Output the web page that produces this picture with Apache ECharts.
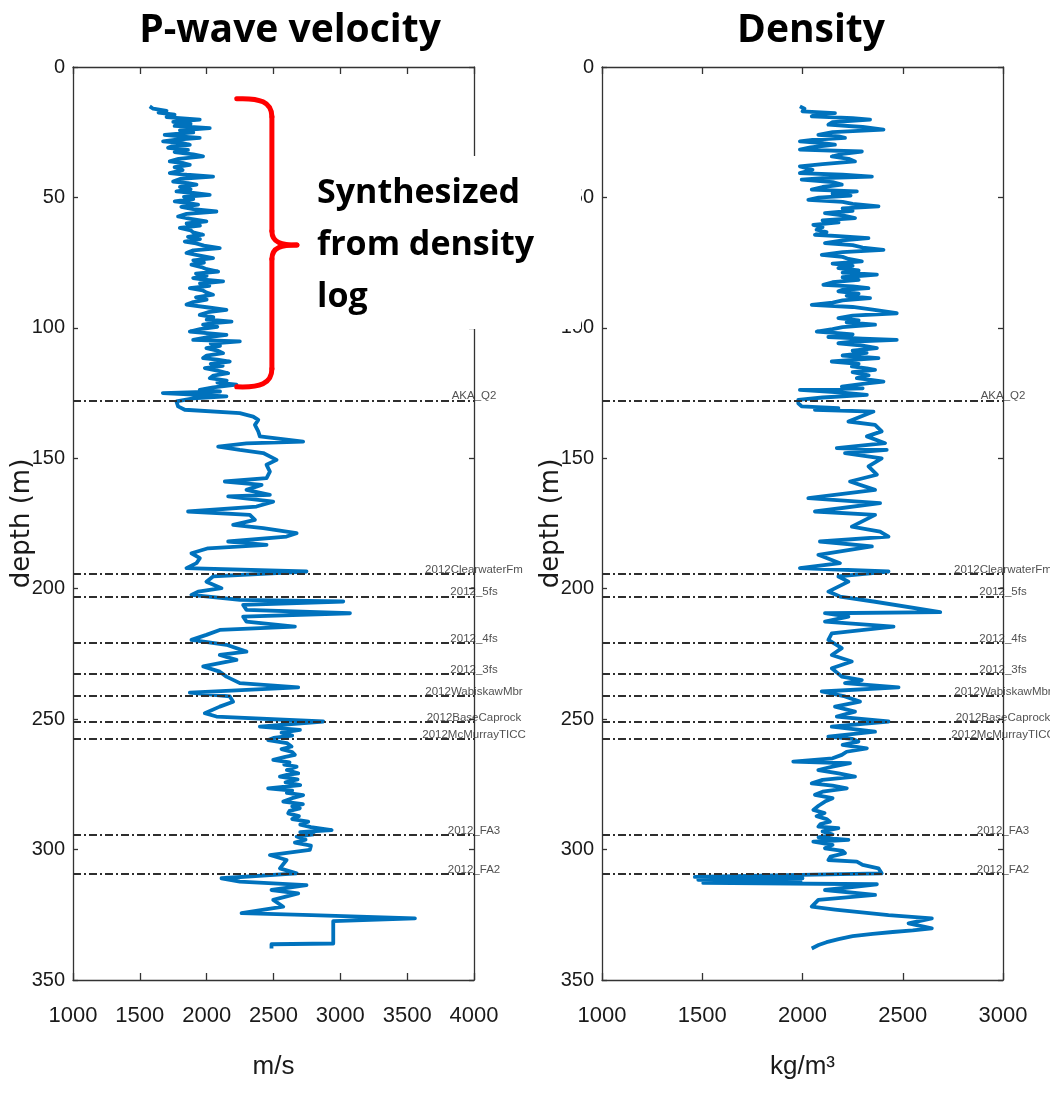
<!DOCTYPE html>
<html>
<head>
<meta charset="utf-8">
<script src="https://cdn.jsdelivr.net/npm/echarts@6/dist/echarts.min.js"></script>
<style>
  html, body { margin: 0; padding: 0; background: #fff; }
  #chart { width: 1050px; height: 1096px; }
</style>
</head>
<body>
<div id="chart"></div>
<script>
// ---- Well log: P-wave velocity (m/s) versus depth (m) ----
const depthVp = [
  15.1, 16.0, 16.8, 17.5, 18.3, 19.2, 20.2, 21.0, 21.8, 22.6, 23.4, 24.3, 25.1, 26.0, 26.6, 27.2,
  27.9, 28.5, 29.2, 29.8, 30.4, 31.0, 31.8, 32.6, 33.5, 34.3, 35.2, 36.2, 36.9, 37.5, 38.4, 39.5,
  40.7, 41.3, 42.0, 42.9, 43.9, 44.5, 45.1, 46.0, 46.9, 47.7, 48.3, 49.0, 49.8, 50.6, 51.5, 52.1,
  52.8, 53.6, 54.5, 55.4, 56.3, 57.3, 58.2, 59.2, 60.0, 60.8, 61.7, 62.6, 63.4, 64.3, 65.1, 66.0,
  66.9, 67.6, 68.5, 69.4, 70.3, 71.3, 72.3, 73.3, 74.1, 75.0, 75.8, 76.7, 77.5, 78.4, 79.2, 80.1,
  80.9, 81.5, 82.2, 83.0, 83.9, 84.8, 85.6, 86.5, 87.3, 88.3, 89.2, 90.1, 91.1, 92.1, 93.1, 94.0,
  95.0, 95.9, 96.8, 97.6, 98.2, 98.8, 99.6, 100.5, 101.4, 102.0, 102.7, 103.6, 104.6, 105.2, 106.0,
  106.9, 107.8, 108.7, 109.7, 110.6, 111.6, 112.2, 112.9, 113.8, 114.6, 115.4, 116.4, 117.4, 118.3,
  119.3, 120.2, 121.0, 121.8, 122.8, 123.8, 124.4, 125.0, 125.6, 126.3, 127.0, 128.2, 130.1, 131.4,
  132.7, 134.0, 135.3, 137.2, 139.7, 141.6, 143.6, 144.3, 145.5, 146.8, 148.0, 150.6, 152.5, 155.1,
  157.6, 158.9, 160.2, 162.1, 164.0, 164.6, 166.6, 168.5, 170.4, 171.7, 173.6, 175.5, 176.8, 178.7,
  180.0, 181.9, 183.2, 184.5, 186.4, 188.3, 190.2, 192.1, 193.4, 195.3, 197.3, 199.8, 201.1, 202.4,
  204.3, 204.9, 206.2, 208.1, 209.4, 210.7, 212.6, 214.5, 215.8, 217.7, 219.6, 221.5, 224.1, 225.4,
  227.3, 229.8, 231.8, 233.7, 236.2, 237.8, 239.8, 241.3, 243.3, 245.2, 247.7, 249.0, 250.9, 252.9,
  254.1, 255.2, 256.3, 257.2, 258.0, 259.2, 260.5, 261.5, 262.6, 263.7, 264.6, 265.6, 266.6, 267.4,
  268.2, 269.5, 270.8, 271.4, 272.0, 273.1, 274.2, 275.3, 276.5, 277.4, 278.3, 279.1, 280.3, 281.6,
  282.6, 283.4, 284.2, 285.2, 286.1, 287.2, 288.3, 289.3, 290.4, 291.4, 292.5, 293.3, 294.2, 295.0,
  296.2, 297.3, 298.5, 300.1, 302.1, 304.0, 307.2, 309.1, 311.0, 312.3, 313.6, 315.5, 316.8, 319.3,
  321.9, 324.4, 325.1, 326.4, 327.4, 336.0, 336.3, 337.9
];
const vp = [
  1574, 1600, 1700, 1640, 1760, 1700, 1948, 1750, 1880, 1760, 2023, 1800, 1900, 1686, 1800, 1948,
  1760, 1674, 1820, 1874, 1740, 1711, 1860, 1760, 1900, 1973, 1790, 1724, 1830, 1874, 1760, 1820,
  1724, 1850, 2048, 1800, 1749, 1860, 1924, 1800, 1880, 1774, 1900, 2023, 1830, 1900, 1761, 1850,
  1936, 1810, 1900, 2073, 1850, 1786, 1880, 1998, 1850, 1950, 1799, 1880, 1900, 1973, 1860, 1950,
  1836, 1920, 1980, 2098, 1900, 1849, 1950, 2048, 1900, 1980, 1886, 1960, 2000, 2086, 1920, 2000,
  1899, 1980, 2123, 1950, 2020, 1874, 1970, 2000, 2048, 1920, 2000, 1900, 1849, 2000, 2148, 2010,
  1948, 2050, 2000, 2186, 2050, 1973, 2080, 1950, 1874, 2000, 2148, 2000, 1899, 2248, 2030,
  2100, 1998, 2080, 2123, 2000, 1973, 2080, 2173, 2030, 2120, 1986, 2080, 2161, 2050,
  2023, 2150, 2080, 2223, 2050, 1948, 2100, 1672, 1900, 2148, 1900, 1774, 1786, 1836,
  2248, 2348, 2386, 2361, 2386, 2398, 2722, 2298, 2086, 2248, 2423, 2523, 2448, 2473,
  2448, 2136, 2411, 2298, 2473, 2161, 2498, 2373, 1861, 2323, 2361, 2198, 2423, 2673,
  2598, 2161, 2448, 2011, 1886, 1949, 1924, 1849, 2747, 2048, 1998, 2111, 1936, 1886,
  2248, 3022, 2273, 2298, 3072, 2273, 2298, 2660, 2098, 1998, 1886, 2148, 2298, 2098,
  2223, 1974, 2098, 2148, 2248, 2685, 1874, 2173, 2198, 2098, 1986, 2073, 2872, 2398,
  2698, 2560, 2640, 2500, 2460, 2600, 2635, 2560, 2640, 2660, 2580, 2498, 2620, 2580,
  2673, 2600, 2685, 2600, 2548, 2680, 2590, 2700, 2460, 2640, 2600, 2722, 2640, 2573,
  2720, 2640, 2697, 2620, 2610, 2690, 2640, 2760, 2700, 2780, 2935, 2700, 2800, 2673,
  2740, 2660, 2780, 2772, 2473, 2598, 2548, 2673, 2111, 2248, 2747, 2485, 2685, 2498,
  2573, 2261, 2785, 3558, 2947, 2947, 2485, 2485
];

// ---- Well log: density (kg/m3) versus depth (m) ----
const depthRho = [
  15.1, 16.0, 17.0, 17.7, 18.3, 18.9, 19.6, 20.2, 21.1, 22.1, 23.0, 24.0, 25.0, 26.0, 26.6, 27.2,
  27.9, 28.5, 29.2, 29.8, 30.8, 31.7, 32.4, 33.3, 34.3, 35.2, 36.2, 37.2, 38.1, 39.4, 40.7, 41.3,
  42.0, 42.6, 43.2, 44.1, 45.1, 46.0, 47.0, 47.7, 48.5, 49.3, 50.1, 50.9, 51.7, 52.5, 53.4, 54.2,
  55.1, 56.0, 56.9, 57.9, 58.8, 59.6, 60.5, 61.4, 62.4, 63.3, 64.3, 64.9, 65.6, 66.5, 67.5, 68.3,
  69.2, 70.1, 71.0, 72.0, 72.8, 73.6, 74.5, 75.4, 76.2, 77.1, 78.0, 78.8, 79.6, 80.6, 81.6, 82.5,
  83.5, 84.1, 84.8, 85.4, 86.0, 86.9, 87.7, 88.6, 89.5, 90.3, 91.2, 92.0, 93.0, 94.4, 95.3, 96.3,
  97.1, 97.9, 98.8, 99.7, 100.5, 101.4, 102.5, 103.5, 104.1, 104.6, 105.3, 105.9, 106.8, 107.8,
  108.7, 109.6, 110.6, 111.6, 112.3, 112.9, 113.8, 114.8, 115.5, 116.1, 117.0, 118.2, 119.3, 120.0,
  120.6, 121.5, 122.5, 123.2, 123.8, 124.8, 125.7, 126.7, 127.6, 128.9, 130.1, 130.8, 131.4, 132.1,
  135.9, 137.2, 139.7, 141.6, 144.2, 146.1, 146.8, 148.0, 150.0, 153.1, 156.3, 158.9, 162.1, 165.3,
  167.2, 170.4, 171.7, 176.2, 178.1, 180.0, 181.9, 183.8, 187.0, 190.2, 192.1, 193.4, 195.3, 197.3,
  201.1, 203.0, 204.9, 209.0, 209.4, 210.7, 212.6, 214.5, 217.1, 219.6, 222.8, 225.4, 227.9, 230.5,
  233.7, 235.0, 236.2, 237.8, 239.4, 241.3, 243.3, 245.2, 247.1, 249.0, 250.9, 252.9, 254.8, 256.7,
  257.6, 258.6, 259.9, 261.2, 262.5, 263.7, 265.0, 266.3, 266.9, 268.2, 269.5, 270.8, 272.0, 273.3,
  274.6, 275.5, 276.5, 277.8, 279.0, 280.3, 281.6, 283.2, 284.8, 286.0, 287.2, 288.3, 289.3, 290.2,
  291.2, 291.8, 293.0, 294.2, 295.3, 296.3, 297.0, 298.2, 299.5, 300.5, 301.4, 302.7, 304.0, 304.6,
  305.9, 307.2, 309.1, 310.5, 311.0, 311.6, 312.2, 312.8, 313.3, 315.5, 317.4, 319.3, 321.9, 323.0,
  325.1, 326.4, 328.3, 330.2, 331.0, 331.6, 332.3, 333.2, 334.3, 335.5, 336.6, 337.9
];
const rho = [
  1987, 2010, 2000, 2162, 2060, 2046, 2250, 2337, 2150, 2129, 2300, 2404, 2150, 2079, 2180, 2212,
  2050, 1987, 2100, 2162, 2040, 1987, 2296, 2200, 2146, 2230, 2262, 2100, 1987, 2050, 1987, 2200,
  2346, 2100, 1996, 2150, 2196, 2100, 2046, 2271, 2150, 2240, 2080, 2029, 2200, 2250, 2379, 2200,
  2250, 2112, 2200, 2262, 2100, 2180, 2054, 2100, 2070, 2120, 2062, 2200, 2329, 2200, 2112, 2250,
  2300, 2404, 2200, 2096, 2200, 2230, 2296, 2150, 2250, 2179, 2280, 2200, 2371, 2200, 2280, 2150,
  2104, 2250, 2329, 2200, 2179, 2280, 2220, 2337, 2200, 2150, 2046, 2250, 2350, 2470, 2250, 2179,
  2280, 2220, 2362, 2200, 2150, 2071, 2250, 2129, 2300, 2470, 2250, 2179, 2300, 2371,
  2250, 2320, 2200, 2379, 2250, 2146, 2280, 2246, 2320, 2362, 2250, 2330, 2271, 2350,
  2404, 2300, 2196, 2300, 1987, 2200, 2321, 2100, 1979, 1979, 1996, 2179, 2062, 2354,
  2229, 2362, 2395, 2321, 2412, 2171, 2420, 2212, 2395, 2329, 2371, 2237, 2362, 2029,
  2387, 2062, 2362, 2246, 2387, 2429, 2087, 2346, 2079, 2187, 1987, 2429, 2179, 2229,
  2129, 2187, 2354, 2687, 2112, 2229, 2112, 2454, 2146, 2129, 2196, 2146, 2246, 2146,
  2196, 2296, 2212, 2479, 2096, 2212, 2287, 2162, 2262, 2171, 2429, 2146, 2362, 2129,
  2250, 2279, 2200, 2321, 2220, 2196, 2150, 1954, 2237, 2150, 2079, 2180, 2262, 2100,
  2046, 2150, 2221, 2100, 2062, 2150, 2112, 2080, 2054, 2110, 2070, 2120, 2137, 2090,
  2079, 2179, 2100, 2150, 2080, 2229, 2054, 2150, 2112, 2200, 2212, 2140, 2129, 2271,
  2300, 2379, 2395, 1463, 2000, 1480, 1990, 1505, 2371, 2112, 2362, 2079, 2046, 2162,
  2429, 2645, 2529, 2645, 2550, 2450, 2350, 2250, 2180, 2120, 2080, 2046
];

// ---- Formation tops ----
const topNames = [
  'AKA_Q2', '2012ClearwaterFm', '2012_5fs', '2012_4fs', '2012_3fs',
  '2012WabiskawMbr', '2012BaseCaprock', '2012McMurrayTICC', '2012_FA3', '2012_FA2'
];
const topDepths = [127.8, 194.3, 203.0, 220.8, 232.7, 241.1, 251.1, 257.6, 294.5, 309.4];

// ---- Axis ranges: [min, max, interval] ----
const depthRange = [0, 350, 50];
const vpRange = [1000, 4000, 500];
const rhoRange = [1000, 3000, 500];

// Depth interval of the synthesized velocity section, bracketed on the left track
const braceDepths = [12.2, 68.2, 122.6];
const braceVp = [2225, 2488, 2675];

const AXIS_FONT = "'Liberation Sans', Arial, sans-serif";
const AXIS_COLOR = '#333';
const TEXT_COLOR = '#1a1a1a';
const LOG_BLUE = '#0072BD';

const chart = echarts.init(document.getElementById('chart'), null, { renderer: 'canvas' });

function pairs(depths, values) {
  return depths.map((d, i) => [values[i], d]);
}

const plainNumber = v => String(v);

function xAxes(gridIndex, range, unitName) {
  const common = {
    gridIndex, type: 'value', min: range[0], max: range[1], interval: range[2],
    splitLine: { show: false },
    axisLine: { show: true, onZero: false, lineStyle: { color: AXIS_COLOR, width: 1.3 } },
    axisTick: { show: true, inside: true, length: 7, lineStyle: { color: AXIS_COLOR, width: 1.3 } }
  };
  return [
    Object.assign({}, common, {
      position: 'bottom',
      axisLabel: { show: true, margin: 25, fontFamily: AXIS_FONT, fontSize: 22, color: TEXT_COLOR, formatter: plainNumber },
      name: unitName, nameLocation: 'middle', nameGap: 74, nameMoveOverlap: false,
      nameTextStyle: { fontFamily: AXIS_FONT, fontSize: 26, color: TEXT_COLOR }
    }),
    Object.assign({}, common, { position: 'top', axisLabel: { show: false } })
  ];
}

function yAxes(gridIndex) {
  const common = {
    gridIndex, type: 'value', inverse: true,
    min: depthRange[0], max: depthRange[1], interval: depthRange[2],
    splitLine: { show: false },
    axisLine: { show: true, onZero: false, lineStyle: { color: AXIS_COLOR, width: 1.3 } },
    axisTick: { show: true, inside: true, length: 5, lineStyle: { color: AXIS_COLOR, width: 1.3 } }
  };
  return [
    Object.assign({}, common, {
      position: 'left',
      axisLabel: { show: true, margin: 8, fontFamily: AXIS_FONT, fontSize: 20, color: TEXT_COLOR, formatter: plainNumber },
      name: 'depth (m)', nameLocation: 'middle', nameRotate: 90, nameGap: 38, nameMoveOverlap: false,
      nameTextStyle: { fontFamily: "'DejaVu Sans', sans-serif", fontSize: 26, color: TEXT_COLOR }
    }),
    Object.assign({}, common, { position: 'right', axisLabel: { show: false } })
  ];
}

function topsSeries(xIndex, yIndex, xEdge) {
  return {
    type: 'scatter', xAxisIndex: xIndex, yAxisIndex: yIndex,
    data: topNames.map((n, i) => ({ name: n, value: [xEdge, topDepths[i]] })),
    symbolSize: 1,
    itemStyle: { color: 'rgba(0,0,0,0)' },
    label: {
      show: true, position: 'top', distance: -2, formatter: '{b}',
      fontFamily: AXIS_FONT, fontSize: 11.5, color: '#262626'
    },
    markLine: {
      silent: true, symbol: ['none', 'none'], animation: false,
      label: { show: false },
      lineStyle: { type: [8, 3, 2, 3], color: '#2e2e2e', width: 2.2 },
      data: topDepths.map(d => ({ yAxis: d }))
    },
    z: 5, silent: true, animation: false
  };
}

function logSeries(xIndex, yIndex, depths, values) {
  return {
    type: 'line', xAxisIndex: xIndex, yAxisIndex: yIndex,
    data: pairs(depths, values),
    showSymbol: false, symbol: 'none',
    lineStyle: { color: LOG_BLUE, width: 3.8, join: 'round' },
    z: 2, animation: false, silent: true
  };
}

const option = {
  animation: false,
  backgroundColor: '#fff',
  grid: [
    { left: 73, top: 67, width: 401, height: 913, outerBoundsMode: 'none' },
    { left: 602, top: 67, width: 401, height: 913, outerBoundsMode: 'none' }
  ],
  xAxis: [].concat(xAxes(0, vpRange, 'm/s'), xAxes(1, rhoRange, 'kg/m\u00B3')),
  yAxis: [].concat(yAxes(0), yAxes(1)),
  series: [
    logSeries(0, 0, depthVp, vp),
    logSeries(2, 2, depthRho, rho),
    topsSeries(0, 0, vpRange[1]),
    topsSeries(2, 2, rhoRange[1])
  ]
};
chart.setOption(option);

// Panel titles, annotation box and the red brace over the synthesized interval
const px = (v, d) => chart.convertToPixel({ gridIndex: 0 }, [v, d]);
const pTop = px(braceVp[0], braceDepths[0]);
const pTopSpine = px(braceVp[1], braceDepths[0]);
const pTip = px(braceVp[2], braceDepths[1]);
const pBot = px(braceVp[0], braceDepths[2]);
const sx = pTopSpine[0];
const braceStyle = { stroke: '#ff0000', lineWidth: 5, fill: null, lineCap: 'round' };

const titleFont = { fontFamily: "'Open Sans', sans-serif", fontWeight: 'bold', fontSize: 39, fill: '#000' };

chart.setOption({
  graphic: [
    { type: 'text', x: 290, y: 31, z: 110,
      style: Object.assign({ text: 'P-wave velocity', align: 'center', verticalAlign: 'middle' }, titleFont) },
    { type: 'text', x: 811, y: 31, z: 110,
      style: Object.assign({ text: 'Density', align: 'center', verticalAlign: 'middle' }, titleFont) },
    { type: 'rect', z: 100, shape: { x: 305, y: 156, width: 276, height: 173 }, style: { fill: '#fff' } },
    { type: 'text', x: 317, y: 167, z: 110,
      style: { text: 'Synthesized\nfrom density\nlog', fontFamily: "'Open Sans', sans-serif", fontWeight: 'bold',
               fontSize: 34, lineHeight: 52, fill: '#000', align: 'left', verticalAlign: 'top' } },
    { type: 'bezierCurve', z: 110, style: braceStyle,
      shape: { x1: pTop[0], y1: pTop[1], cpx1: sx - 12, cpy1: pTop[1] - 1, cpx2: sx, cpy2: pTop[1] + 3, x2: sx, y2: pTop[1] + 18 } },
    { type: 'line', z: 110, style: braceStyle,
      shape: { x1: sx, y1: pTop[1] + 18, x2: sx, y2: pTip[1] - 14 } },
    { type: 'bezierCurve', z: 110, style: braceStyle,
      shape: { x1: sx, y1: pTip[1] - 14, cpx1: sx, cpy1: pTip[1] - 2, cpx2: sx + 10, cpy2: pTip[1], x2: pTip[0], y2: pTip[1] } },
    { type: 'bezierCurve', z: 110, style: braceStyle,
      shape: { x1: pTip[0], y1: pTip[1], cpx1: sx + 10, cpy1: pTip[1], cpx2: sx, cpy2: pTip[1] + 2, x2: sx, y2: pTip[1] + 14 } },
    { type: 'line', z: 110, style: braceStyle,
      shape: { x1: sx, y1: pTip[1] + 14, x2: sx, y2: pBot[1] - 18 } },
    { type: 'bezierCurve', z: 110, style: braceStyle,
      shape: { x1: sx, y1: pBot[1] - 18, cpx1: sx, cpy1: pBot[1] - 3, cpx2: sx - 12, cpy2: pBot[1] + 1, x2: pBot[0], y2: pBot[1] } }
  ]
});
</script>
</body>
</html>
